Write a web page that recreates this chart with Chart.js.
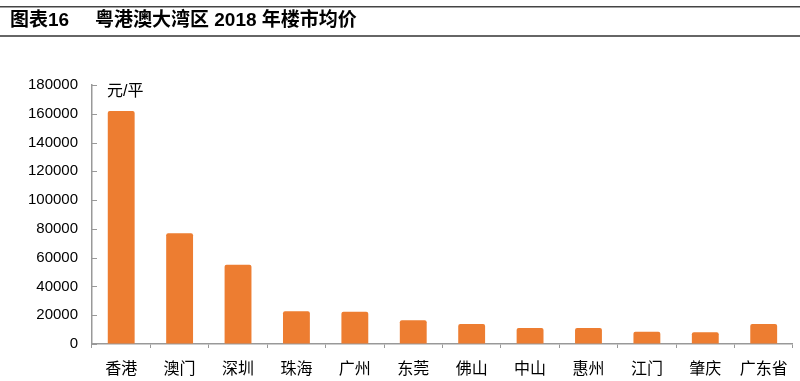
<!DOCTYPE html>
<html lang="zh">
  <head>
    <meta charset="UTF-8" />
    <title>粤港澳大湾区 2018 年楼市均价</title>
    <script src="https://cdn.jsdelivr.net/npm/chart.js@4.4.0/dist/chart.umd.min.js"></script>
    <style>
      html, body { margin: 0; padding: 0; background: #fff; }
      #wrap { width: 800px; height: 381px; position: relative; }
    </style>
  </head>
  <body>
    <div id="wrap"><canvas id="chart"></canvas></div>
    <script>
      const cities = ['香港', '澳门', '深圳', '珠海', '广州', '东莞', '佛山', '中山', '惠州', '江门', '肇庆', '广东省']
      const prices = [162000, 77000, 55000, 22700, 22400, 16500, 13900, 11100, 11100, 8500, 8100, 13900]
      const yTicks = [0, 20000, 40000, 60000, 80000, 100000, 120000, 140000, 160000, 180000]

      const FONT = '"Liberation Sans", "Noto Sans CJK SC", sans-serif'

      // title bar and unit label
      const decor = {
        id: 'decor',
        afterDraw(chart) {
          const c = chart.ctx
          c.save()
          c.fillStyle = '#444'
          c.fillRect(0, 6, 800, 1.5)
          c.fillStyle = '#666'
          c.fillRect(0, 35, 800, 2)
          c.fillStyle = '#000'
          c.textBaseline = 'middle'
          c.font = 'bold 19px ' + FONT
          c.fillText('图表16', 10, 21)
          c.fillText('粤港澳大湾区 2018 年楼市均价', 95, 21)
          c.font = '16px ' + FONT
          c.fillText('元/平', 107, 92)
          // y ticks point into the plot
          const y = chart.scales.y
          c.strokeStyle = '#999'
          c.lineWidth = 1
          yTicks.forEach(v => {
            const py = Math.round(y.getPixelForValue(v)) + 0.5
            c.beginPath()
            c.moveTo(y.right, py)
            c.lineTo(y.right + 5, py)
            c.stroke()
          })
          c.restore()
        },
      }

      new Chart(document.getElementById('chart'), {
        type: 'bar',
        data: {
          labels: cities,
          datasets: [{
            data: prices,
            backgroundColor: '#ED7D31',
            borderRadius: 2,
            borderSkipped: 'bottom',
            barPercentage: 0.46,
            categoryPercentage: 1,
          }],
        },
        options: {
          responsive: true,
          maintainAspectRatio: false,
          animation: false,
          layout: { padding: { top: 85, right: 7, left: 0, bottom: 0 } },
          plugins: { legend: { display: false }, tooltip: { enabled: false } },
          scales: {
            x: {
              afterFit(scale) { scale.height = 37 },
              border: { color: '#999', width: 1.5 },
              grid: { offset: true, drawOnChartArea: false, tickLength: 4, color: '#999' },
              ticks: { color: '#000', font: { size: 16, family: FONT }, padding: 12, maxRotation: 0 },
            },
            y: {
              min: 0,
              max: 180000,
              afterFit(scale) { scale.width = 92 },
              afterBuildTicks(scale) { scale.ticks = yTicks.map(v => ({ value: v })) },
              border: { color: '#999', width: 1.5 },
              grid: { drawOnChartArea: false, drawTicks: false, tickLength: 0 },
              ticks: {
                color: '#000',
                font: { size: 15, family: FONT },
                padding: 14,
                callback: v => String(v),
              },
            },
          },
        },
        plugins: [decor],
      })
    </script>
  </body>
</html>
